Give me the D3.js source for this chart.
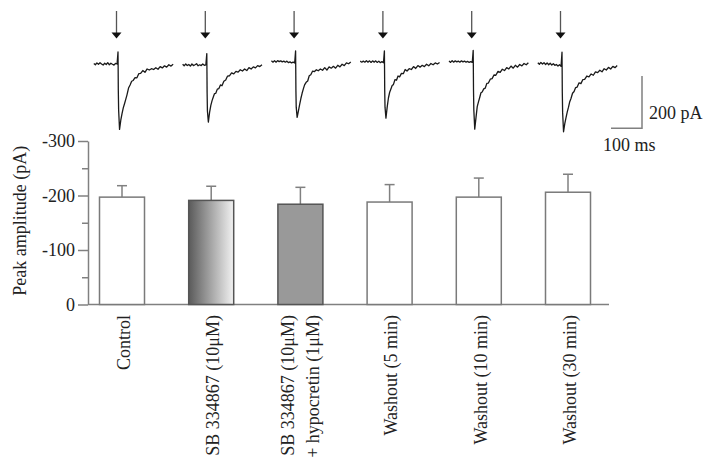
<!DOCTYPE html>
<html><head><meta charset="utf-8">
<script src="https://cdn.jsdelivr.net/npm/d3@7/dist/d3.min.js"></script>
<style>
html,body{margin:0;padding:0;background:#fff;}
svg{display:block;}
text{font-family:"Liberation Serif","Times New Roman",serif;fill:#222;}
</style></head>
<body>
<svg id="chart" width="714" height="473"></svg>
<script>
// ---------- data ----------
const categories = ["Control","SB","SB+Hcrt","Wash5","Wash10","Wash30"];
const categoryLabels = [
  ["Control"],
  ["SB 334867 (10\u03bcM)"],
  ["SB 334867 (10\u03bcM)","+ hypocretin (1\u03bcM)"],
  ["Washout (5 min)"],
  ["Washout (10 min)"],
  ["Washout (30 min)"]
];
const meanAmplitude = [-197, -191, -184, -188, -197, -206];
const semAmplitude  = [21, 26, 31, 32, 35, 33];
const fillStyle = ["white","gradient","gray","white","white","white"];
const yTickValues = [0, -100, -200, -300];
const yMinorTicks = [-50, -150, -250];

// representative traces (time in ms relative to stimulus, current in pA)
const traceTime = [-78,-73,-68,-63,-58,-53,-48,-43,-38,-33,-28,-23,-18,-13,-8,-3,0,0.5,1,2,
  5,9,13,17,21,25,29,34,39,44,49,55,61,67,73,
  80,87,94,101,108,115,122,129,136,143,150,157,164,171,178];
const trace1 = [2,-3,4,-1,5,0,-4,3,-2,5,-3,3,-1,-4,2,0, 46,-20,-100,-175,
  -250,-215,-190,-168,-152,-135,-118,-92,-80,-66,-63,-52,-53,-37,-36,
  -25,-32,-19,-23,-18,-21,-14,-20,-10,-15,-7,-12,-3,-8,-1];
const trace2 = [-1,-7,0,-6,-2,-8,0,-6,-3,1,-7,-3,-6,0,-5,-3, 40,-30,-110,-180,
  -222,-185,-158,-140,-126,-113,-112,-96,-94,-80,-83,-66,-61,-46,-45,
  -34,-38,-28,-31,-22,-27,-19,-25,-14,-19,-11,-15,-6,-10,-3];
const trace3 = [12,7,13,7,13,9,12,8,11,7,11,5,8,4,7,4, 50,-20,-100,-165,
  -204,-180,-155,-132,-112,-95,-80,-70,-65,-45,-41,-27,-29,-22,-26,
  -19,-24,-14,-23,-11,-16,-9,-16,-5,-11,-1,-6,4,1,8];
const trace4 = [11,7,11,7,13,7,12,6,12,7,12,6,11,5,9,5, 50,-20,-100,-165,
  -207,-165,-130,-108,-96,-82,-79,-60,-62,-46,-49,-36,-37,-21,-27,
  -18,-21,-10,-17,-6,-12,-5,-10,-1,-7,2,-3,4,0,6];
const trace5 = [12,6,13,7,12,8,11,7,12,8,11,7,10,6,9,6, 52,-20,-100,-175,
  -249,-205,-163,-145,-128,-110,-107,-95,-92,-74,-73,-58,-56,-42,-43,
  -28,-32,-20,-25,-14,-19,-8,-16,-5,-12,-2,-7,2,-3,5];
const trace6 = [5,-1,6,0,5,-2,4,-3,3,-4,1,-5,-2,-8,-3,-9, 45,-30,-110,-185,
  -259,-228,-205,-183,-165,-144,-132,-112,-105,-90,-88,-72,-75,-60,-59,
  -46,-49,-38,-43,-30,-33,-24,-30,-18,-23,-13,-19,-9,-14,-6];
const traces = [trace1, trace2, trace3, trace4, trace5, trace6];
const scaleBarCurrent = 200; // pA
const scaleBarTime = 100;    // ms

// ---------- layout ----------
const svg = d3.select("#chart");
const axisColor = "#808080";
const x = d3.scalePoint().domain(categories).range([122, 568]);
const barW = 45;
const y = d3.scaleLinear().domain([0, -300]).range([304.5, 141]);

// y axis
const gAxis = svg.append("g").attr("transform", "translate(88,0)");
gAxis.call(d3.axisLeft(y).tickValues(yTickValues).tickSize(10).tickSizeOuter(0).tickPadding(3)
  .tickFormat(d => d === 0 ? "0" : "-" + Math.abs(d)));
gAxis.select(".domain").attr("stroke", axisColor).attr("stroke-width", 1.5);
gAxis.selectAll(".tick line").attr("stroke", axisColor).attr("stroke-width", 1.5);
gAxis.selectAll(".tick text").style("font-size", "18px")
  .style("font-family", '"Liberation Serif", serif').attr("fill", "#222");
const gMinor = svg.append("g").attr("transform", "translate(88,0)");
gMinor.call(d3.axisLeft(y).tickValues(yMinorTicks).tickSize(6).tickFormat(""));
gMinor.select(".domain").remove();
gMinor.selectAll(".tick line").attr("stroke", axisColor).attr("stroke-width", 1.5);

// x baseline
svg.append("line").attr("x1", 88).attr("x2", 609).attr("y1", y(0)).attr("y2", y(0))
  .attr("stroke", axisColor).attr("stroke-width", 1.5);

// y title
svg.append("text").attr("transform", `translate(26,${(y(0)+y(-300))/2 - 2}) rotate(-90)`)
  .attr("text-anchor", "middle").style("font-size", "18px").text("Peak amplitude (pA)");

// gradient
const defs = svg.append("defs");
const grad = defs.append("linearGradient").attr("id", "g1").attr("x1", "0%").attr("x2", "100%");
grad.append("stop").attr("offset", "0%").attr("stop-color", "#5a5a5a");
grad.append("stop").attr("offset", "100%").attr("stop-color", "#f2f2f2");
const fillFor = s => s === "gradient" ? "url(#g1)" : s === "gray" ? "#999" : "#fff";

// bars
const rows = categories.map((c, i) => ({c, m: meanAmplitude[i], e: semAmplitude[i], f: fillStyle[i], lab: categoryLabels[i]}));
const gBars = svg.append("g");
gBars.selectAll("line.err").data(rows).join("line").attr("class", "err")
  .attr("x1", d => x(d.c)).attr("x2", d => x(d.c))
  .attr("y1", d => y(d.m)).attr("y2", d => y(d.m - d.e))
  .attr("stroke", axisColor).attr("stroke-width", 1.5);
gBars.selectAll("line.cap").data(rows).join("line").attr("class", "cap")
  .attr("x1", d => x(d.c) - 5).attr("x2", d => x(d.c) + 5)
  .attr("y1", d => y(d.m - d.e)).attr("y2", d => y(d.m - d.e))
  .attr("stroke", axisColor).attr("stroke-width", 1.5);
gBars.selectAll("rect").data(rows).join("rect")
  .attr("x", d => x(d.c) - barW/2).attr("width", barW)
  .attr("y", d => y(d.m)).attr("height", d => y(0) - y(d.m))
  .attr("fill", d => fillFor(d.f))
  .attr("stroke", d => d.f === "white" ? "#7a7a7a" : "#555").attr("stroke-width", 1.5);

// category labels
rows.forEach(d => {
  const n = d.lab.length;
  d.lab.forEach((t, k) => {
    const off = n === 1 ? 1.5 : (k === 0 ? -12.5 : 12.5);
    svg.append("text")
      .attr("transform", `translate(${x(d.c) + off},315) rotate(-90)`)
      .attr("text-anchor", "end").attr("dy", "0.35em")
      .style("font-size", "18px").text(t);
  });
});

// traces
const tx = d3.scalePoint().domain(categories).range([118, 562]);
const tScale = d3.scaleLinear().domain([0, 100]).range([0, 31]);
const aScale = d3.scaleLinear().domain([0, -200]).range([64, 116.3]);
const line = d3.line().x(d => tScale(d[0])).y(d => aScale(d[1]));
categories.forEach((c, i) => {
  const g = svg.append("g").attr("transform", `translate(${tx(c)},0)`);
  g.append("path").datum(traceTime.map((t, k) => [t, traces[i][k]]))
    .attr("d", line).attr("fill", "none").attr("stroke", "#1a1a1a")
    .attr("stroke-width", 1.3).attr("stroke-linejoin", "round");
  g.append("line").attr("x1", -1.5).attr("x2", -1.5).attr("y1", 11).attr("y2", 33)
    .attr("stroke", "#555").attr("stroke-width", 1.3);
  g.append("path").attr("d", "M-6.5,32.5 L3.5,32.5 L-1.5,38.5 Z").attr("fill", "#111");
});

// scale bar
const sbX = 642, sbY = 128.3;
const sbH = aScale(-scaleBarCurrent) - aScale(0);
const sbW = tScale(scaleBarTime) - tScale(0);
svg.append("path")
  .attr("d", `M${sbX},${sbY - sbH} L${sbX},${sbY} L${sbX - sbW},${sbY}`)
  .attr("fill", "none").attr("stroke", axisColor).attr("stroke-width", 1.5);
svg.append("text").attr("x", 649).attr("y", 119).style("font-size", "18px").text(scaleBarCurrent + " pA");
svg.append("text").attr("x", 603).attr("y", 151).style("font-size", "18px").text(scaleBarTime + " ms");
</script>
</body></html>
